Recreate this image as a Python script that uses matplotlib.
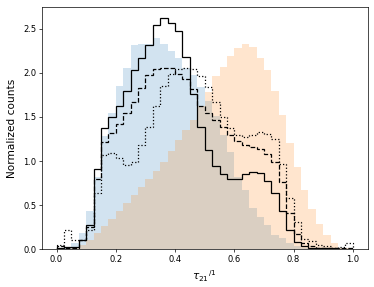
import numpy as np
import matplotlib
matplotlib.use("Agg")
import matplotlib.pyplot as plt

# bin edges: 40 bins on [0, 1]
bin_edges = np.linspace(0.0, 1.0, 41)

# filled distributions
blue_fill = [0.00, 0.02, 0.07, 0.18, 0.43, 0.82, 1.28, 1.55, 1.85, 2.06,
             2.32, 2.33, 2.33, 2.40, 2.33, 2.25, 2.17, 2.06, 1.98, 1.84,
             1.68, 1.51, 1.30, 1.10, 0.82, 0.67, 0.47, 0.37, 0.28, 0.16,
             0.13, 0.07, 0.04, 0.02, 0.01, 0.01, 0.00, 0.00, 0.00, 0.00]
orange_fill = [0.00, 0.00, 0.01, 0.05, 0.11, 0.19, 0.26, 0.34, 0.43, 0.52,
               0.62, 0.71, 0.80, 0.89, 0.99, 1.11, 1.24, 1.35, 1.47, 1.63,
               1.78, 1.96, 2.07, 2.19, 2.28, 2.33, 2.29, 2.17, 2.03, 1.80,
               1.52, 1.21, 0.93, 0.67, 0.46, 0.29, 0.16, 0.07, 0.02, 0.01]

# step lines
solid_line = [0.01, 0.03, 0.03, 0.10, 0.28, 0.91, 1.37, 1.50, 1.62, 1.79,
              2.03, 2.17, 2.32, 2.54, 2.62, 2.56, 2.48, 2.18, 1.76, 1.39,
              1.12, 0.94, 0.85, 0.80, 0.80, 0.85, 0.88, 0.86, 0.77, 0.64,
              0.43, 0.22, 0.08, 0.04, 0.02, 0.01, 0.01, 0.01, 0.00, 0.00]
dashed_line = [0.04, 0.02, 0.02, 0.10, 0.25, 0.80, 1.22, 1.32, 1.42, 1.54,
               1.67, 1.83, 1.98, 2.04, 2.05, 2.05, 1.99, 1.93, 1.82, 1.63,
               1.54, 1.47, 1.39, 1.29, 1.23, 1.18, 1.16, 1.14, 1.08, 0.99,
               0.76, 0.41, 0.17, 0.07, 0.04, 0.02, 0.02, 0.01, 0.02, 0.01]
dotted_line = [0.05, 0.22, 0.10, 0.10, 0.22, 0.64, 1.07, 1.09, 1.03, 0.96,
               0.99, 1.18, 1.39, 1.63, 1.85, 1.99, 2.04, 2.06, 2.04, 1.96,
               1.84, 1.67, 1.50, 1.37, 1.29, 1.27, 1.30, 1.33, 1.31, 1.25,
               0.97, 0.58, 0.31, 0.12, 0.09, 0.05, 0.04, 0.02, 0.03, 0.07]

x_ticks = [0.0, 0.2, 0.4, 0.6, 0.8, 1.0]
y_ticks = [0.0, 0.5, 1.0, 1.5, 2.0, 2.5]

W, H = 374, 287
fig = plt.figure(figsize=(W / 100, H / 100), dpi=100)
ax = fig.add_axes([41.7 / W, 1 - 249.3 / H, (367.7 - 41.7) / W, (249.3 - 6.7) / H])

ax.stairs(blue_fill, bin_edges, fill=True, color="tab:blue", alpha=0.2, linewidth=0)
ax.stairs(orange_fill, bin_edges, fill=True, color="tab:orange", alpha=0.2, linewidth=0)
ax.stairs(solid_line, bin_edges, color="k", linestyle="-", linewidth=0.9)
ax.stairs(dashed_line, bin_edges, color="k", linestyle="--", linewidth=0.9)
ax.stairs(dotted_line, bin_edges, color="k", linestyle=":", linewidth=0.9)

ax.set_xlim(-0.05, 1.05)
ax.set_ylim(0, 2.75)
ax.set_xticks(x_ticks)
ax.set_yticks(y_ticks)
ax.tick_params(labelsize=6, length=2.0, width=0.5, pad=2)
for s in ax.spines.values():
    s.set_linewidth(0.5)

ax.set_xlabel(r"$\tau_{21}{}^{/1}$", fontsize=7.6, labelpad=3)
ax.set_ylabel("Normalized counts", fontsize=7.6, labelpad=4)

fig.savefig("out.png", dpi=100)
